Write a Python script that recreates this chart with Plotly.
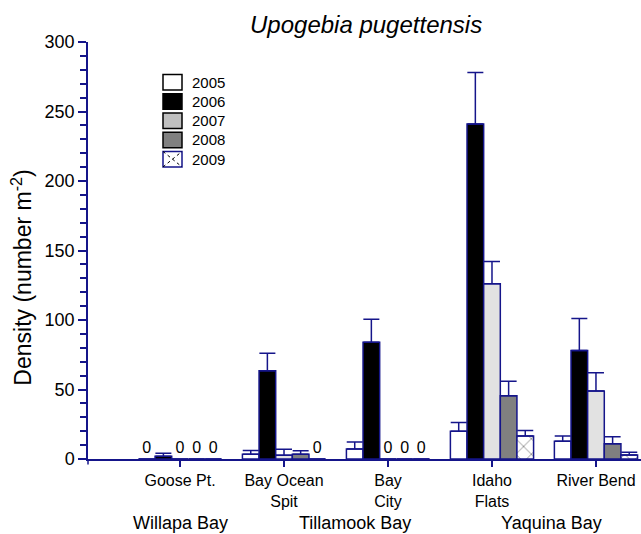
import plotly.graph_objects as go

# Sites (tick labels) and the bays they belong to
sites = ["Goose Pt.", "Bay Ocean<br>Spit", "Bay<br>City", "Idaho<br>Flats", "River Bend"]
bays = ["Willapa Bay", "Tillamook Bay", "Yaquina Bay"]
years = ["2005", "2006", "2007", "2008", "2009"]

# Mean density (number m^-2) per site, one list per year
d2005 = [0, 3.5, 7.2, 20.0, 12.8]
d2006 = [1.9, 63.5, 84.0, 241.0, 78.0]
d2007 = [0, 2.7, 0, 126.0, 49.0]
d2008 = [0, 3.5, 0, 45.5, 11.0]
d2009 = [0, 0, 0, 16.5, 2.8]

# Upper error (standard error) per site, one list per year
e2005 = [0, 2.7, 5.0, 6.2, 3.7]
e2006 = [2.2, 12.5, 16.5, 37.0, 23.0]
e2007 = [0, 4.3, 0, 16.0, 13.0]
e2008 = [0, 2.5, 0, 10.5, 5.0]
e2009 = [0, 0, 0, 4.0, 2.0]

means = [d2005, d2006, d2007, d2008, d2009]
errs = [e2005, e2006, e2007, e2008, e2009]

NAVY = "#15158a"
FONT = "Liberation Sans, Arial, Helvetica, sans-serif"
bar_fill = ["#ffffff", "#000000", "#e2e2e2", "#808080", "#ffffff"]
key_fill = ["#ffffff", "#000000", "#c0c0c0", "#808080", "#ffffff"]
key_line = ["#000000", "#000000", "#000000", "#000000", NAVY]

W, H = 641, 534
ML, MR, MT, MB = 88, 0, 41.5, 74.5
PW, PH = W - ML - MR, H - MT - MB


def px_x(p):
    return (p - ML) / PW


def px_y(p):
    return (H - MB - p) / PH


fig = go.Figure()
for i, yr in enumerate(years):
    marker = dict(color=bar_fill[i], line=dict(color=NAVY, width=1.5))
    if yr == "2009":
        marker["pattern"] = dict(shape="x", size=11, solidity=0.14,
                                 fgcolor="#000000", bgcolor="#ffffff")
    fig.add_trace(go.Bar(
        name=yr,
        x=sites,
        y=means[i],
        marker=marker,
        error_y=dict(type="data", array=errs[i], arrayminus=[0] * len(sites),
                     symmetric=False, color=NAVY, thickness=1.5, width=8),
        text=["0" if v == 0 else "" for v in means[i]],
        textposition="outside",
        textfont=dict(family=FONT, size=16, color="#000000"),
        constraintext="none",
        cliponaxis=False,
        showlegend=False,
    ))

annotations = []
shapes = []

# Year key, drawn top-left inside the plot
for i, yr in enumerate(years):
    top = 74 + i * 19.3
    bot = top + 15.5
    shapes.append(dict(type="rect", xref="paper", yref="paper",
                       x0=px_x(163), x1=px_x(182), y0=px_y(bot), y1=px_y(top),
                       fillcolor=key_fill[i], line=dict(color=key_line[i], width=1.5)))
    if yr == "2009":
        for (a, b), (c, d) in [((163, top), (182, bot)), ((163, bot), (182, top))]:
            shapes.append(dict(type="line", xref="paper", yref="paper",
                               x0=px_x(a), y0=px_y(b), x1=px_x(c), y1=px_y(d),
                               line=dict(color="#000000", width=1, dash="dot")))
    annotations.append(dict(text=yr, xref="paper", yref="paper",
                            x=px_x(190), y=px_y((top + bot) / 2),
                            xanchor="left", yanchor="middle", showarrow=False,
                            font=dict(family=FONT, size=15, color="#000000")))

# Short extension of the y axis below the baseline
shapes.append(dict(type="line", xref="paper", yref="paper",
                   x0=0, x1=0, y0=0, y1=px_y(465),
                   line=dict(color=NAVY, width=1.5)))

# Bay names under the site labels
for name, xc in zip(bays, [0.0, 1.68, 3.57]):
    annotations.append(dict(text=name, xref="x", yref="paper", x=xc, y=px_y(524),
                            xanchor="center", yanchor="middle", showarrow=False,
                            font=dict(family=FONT, size=18, color="#000000")))

# Y-axis title
annotations.append(dict(text="Density (number m<sup>-2</sup>)", xref="paper", yref="paper",
                        x=px_x(21.7), y=px_y(278), textangle=-90,
                        xanchor="center", yanchor="middle", showarrow=False,
                        font=dict(family=FONT, size=23, color="#000000")))

fig.update_layout(
    width=W, height=H,
    margin=dict(l=ML, r=MR, t=MT, b=MB, pad=0),
    paper_bgcolor="#ffffff", plot_bgcolor="#ffffff",
    barmode="group", bargap=0.2, bargroupgap=0,
    font=dict(family=FONT, color="#000000"),
    title=dict(text="<i>Upogebia pugettensis</i>", x=250 / W, xanchor="left",
               y=1 - 25 / H, yanchor="middle", xref="container", yref="container",
               font=dict(family=FONT, size=24, color="#000000")),
    annotations=annotations,
    shapes=shapes,
    showlegend=False,
)

fig.update_xaxes(
    type="category", range=[-0.885, 4.433],
    showline=True, linecolor=NAVY, linewidth=1.5,
    ticks="outside", ticklen=6, tickwidth=1.5, tickcolor=NAVY,
    showgrid=False, zeroline=False,
    tickfont=dict(family=FONT, size=16, color="#000000"),
)
fig.update_yaxes(
    range=[0, 300], tick0=0, dtick=50,
    showline=True, linecolor=NAVY, linewidth=1.5,
    ticks="outside", ticklen=8, tickwidth=1.5, tickcolor=NAVY,
    minor=dict(dtick=10, ticks="outside", ticklen=6, tickwidth=1.5, tickcolor=NAVY, showgrid=False),
    showgrid=False, zeroline=False,
    tickfont=dict(family=FONT, size=18, color="#000000"),
)

fig.write_html("out.html")
